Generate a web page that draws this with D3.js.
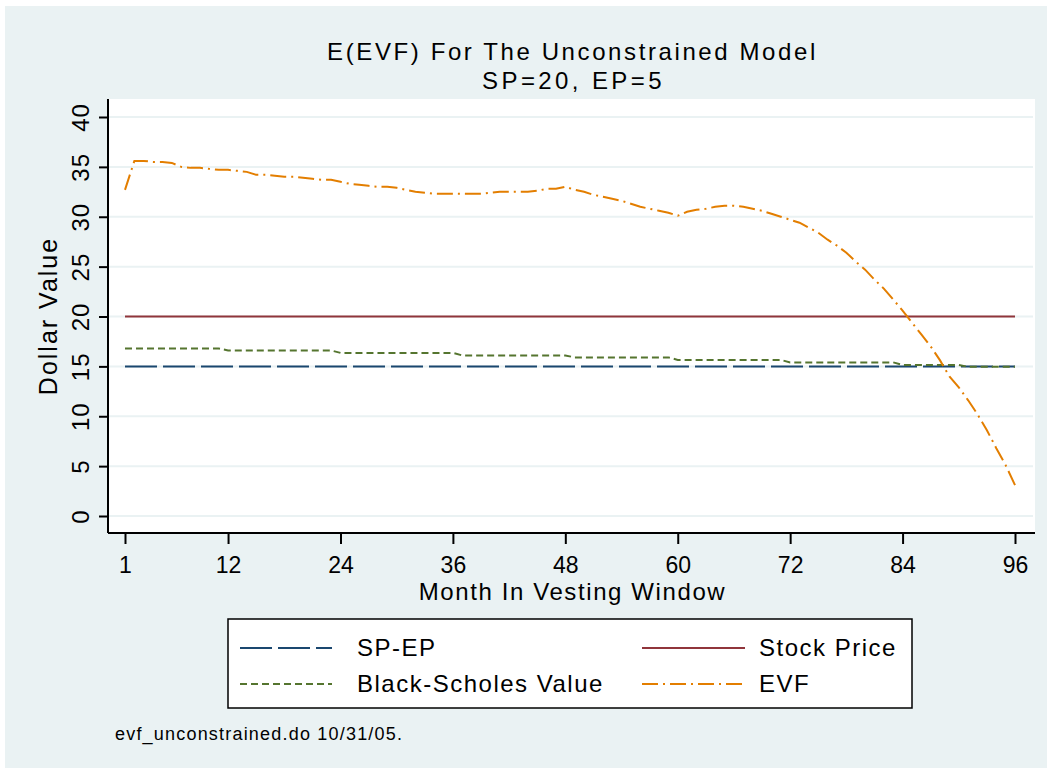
<!DOCTYPE html>
<html>
<head>
<meta charset="utf-8">
<script src="https://cdn.jsdelivr.net/npm/d3@7"></script>
<style>
  body { margin: 0; background: #fff; }
  text { font-family: "Liberation Sans", Arial, sans-serif; fill: #000; }
</style>
</head>
<body>
<svg></svg>
<script>
const width = 1047;
const height = 768;

// data
const months = d3.range(1, 97);
const evf = [
  32.7, 35.6, 35.6, 35.5, 35.5, 35.4, 35.0, 34.9, 34.9, 34.8,
  34.7, 34.7, 34.6, 34.5, 34.2, 34.2, 34.1, 34.0, 34.0, 33.9,
  33.8, 33.7, 33.7, 33.5, 33.3, 33.2, 33.1, 33.0, 33.0, 32.9,
  32.7, 32.5, 32.4, 32.3, 32.3, 32.3, 32.3, 32.3, 32.3, 32.4,
  32.5, 32.5, 32.5, 32.5, 32.6, 32.8, 32.8, 33.0, 32.7, 32.5,
  32.2, 32.0, 31.8, 31.6, 31.3, 31.0, 30.8, 30.6, 30.4, 30.1,
  30.5, 30.7, 30.8, 31.0, 31.1, 31.1, 31.0, 30.8, 30.6, 30.3,
  30.0, 29.7, 29.4, 28.9, 28.4, 27.7, 27.1, 26.4, 25.5, 24.7,
  23.7, 22.8, 21.7, 20.6, 19.4, 18.2, 17.0, 15.6, 14.0, 12.9,
  11.6, 10.2, 8.6, 6.8, 5.1, 3.1
];
const blackScholes = [
  16.8, 16.8, 16.8, 16.8, 16.8, 16.8, 16.8, 16.8, 16.8, 16.8,
  16.8, 16.6, 16.6, 16.6, 16.6, 16.6, 16.6, 16.6, 16.6, 16.6,
  16.6, 16.6, 16.6, 16.35, 16.35, 16.35, 16.35, 16.35, 16.35, 16.35,
  16.35, 16.35, 16.35, 16.35, 16.35, 16.35, 16.1, 16.1, 16.1, 16.1,
  16.1, 16.1, 16.1, 16.1, 16.1, 16.1, 16.1, 16.1, 15.9, 15.9,
  15.9, 15.9, 15.9, 15.9, 15.9, 15.9, 15.9, 15.9, 15.9, 15.65,
  15.65, 15.65, 15.65, 15.65, 15.65, 15.65, 15.65, 15.65, 15.65, 15.65,
  15.65, 15.4, 15.4, 15.4, 15.4, 15.4, 15.4, 15.4, 15.4, 15.4,
  15.4, 15.4, 15.4, 15.15, 15.15, 15.15, 15.15, 15.15, 15.15, 15.15,
  14.95, 14.95, 14.95, 14.95, 14.95, 14.95
];
const spep = months.map(() => 15);
const stockPrice = months.map(() => 20);

const xTicks = [1, 12, 24, 36, 48, 60, 72, 84, 96];
const yTicks = [0, 5, 10, 15, 20, 25, 30, 35, 40];

const series = [
  { name: 'SP-EP', values: spep, color: '#1a476f', dash: '32,6' },
  { name: 'Stock Price', values: stockPrice, color: '#90353b', dash: null },
  { name: 'Black-Scholes Value', values: blackScholes, color: '#55752f', dash: '7,4' },
  { name: 'EVF', values: evf, color: '#e37e00', dash: '16,5,2,5' }
];

const plot = { left: 108, right: 1035, top: 99, bottom: 533 };

const svg = d3.select('svg')
  .attr('width', width)
  .attr('height', height);

svg.append('rect')
  .attr('x', 5).attr('y', 6)
  .attr('width', width - 5).attr('height', height - 6)
  .attr('fill', '#eaf2f3');

svg.append('rect')
  .attr('x', plot.left).attr('y', plot.top)
  .attr('width', plot.right - plot.left).attr('height', plot.bottom - plot.top)
  .attr('fill', '#fff');

const x = d3.scaleLinear().domain([1, 96]).range([125, 1015]);
const y = d3.scaleLinear().domain([0, 40]).range([516, 117]);

// grid
svg.append('g')
  .selectAll('line')
  .data(yTicks)
  .enter()
  .append('line')
  .attr('x1', plot.left + 1).attr('x2', plot.right - 2)
  .attr('y1', d => y(d)).attr('y2', d => y(d))
  .attr('stroke', '#eaf2f3')
  .attr('stroke-width', 2);

// lines
const line = d3.line()
  .x((d, i) => x(months[i]))
  .y(d => y(d));

svg.append('g')
  .selectAll('path')
  .data(series)
  .enter()
  .append('path')
  .attr('d', d => line(d.values))
  .attr('fill', 'none')
  .attr('stroke', d => d.color)
  .attr('stroke-width', 2)
  .attr('stroke-dasharray', d => d.dash);

// axes
const yAxis = svg.append('g')
  .attr('transform', `translate(${plot.left},0)`)
  .call(d3.axisLeft(y).tickValues(yTicks).tickSize(9).tickSizeOuter(0).tickFormat(d3.format('d')));
yAxis.select('.domain').attr('d', `M0,${plot.top}V${plot.bottom}`).attr('stroke-width', 2);
yAxis.selectAll('.tick line').attr('stroke-width', 2);
yAxis.selectAll('.tick text')
  .attr('x', 0).attr('y', 0).attr('dy', 0)
  .attr('transform', 'translate(-19,0) rotate(-90)')
  .attr('text-anchor', 'middle')
  .style('font-size', '24px')
  .style('letter-spacing', '1px')
  .style('font-family', '"Liberation Sans", Arial, sans-serif');

const xAxis = svg.append('g')
  .attr('transform', `translate(0,${plot.bottom})`)
  .call(d3.axisBottom(x).tickValues(xTicks).tickSize(11).tickSizeOuter(0).tickFormat(d3.format('d')));
xAxis.select('.domain').attr('d', `M${plot.left},0H${plot.right}`).attr('stroke-width', 2);
xAxis.selectAll('.tick line').attr('stroke-width', 2);
xAxis.selectAll('.tick text')
  .attr('y', 40).attr('dy', 0)
  .style('font-size', '23px')
  .style('font-family', '"Liberation Sans", Arial, sans-serif');

// titles
const cx = (plot.left + plot.right) / 2;
svg.append('text').attr('x', cx + 1).attr('y', 60)
  .attr('text-anchor', 'middle').style('font-size', '24px')
  .style('letter-spacing', '2.6px')
  .text('E(EVF) For The Unconstrained Model');
svg.append('text').attr('x', cx + 2).attr('y', 89)
  .attr('text-anchor', 'middle').style('font-size', '24px')
  .style('letter-spacing', '3.4px')
  .text('SP=20, EP=5');

svg.append('text').attr('x', cx + 1).attr('y', 600)
  .attr('text-anchor', 'middle').style('font-size', '24px')
  .style('letter-spacing', '1.6px')
  .text('Month In Vesting Window');

svg.append('text')
  .attr('transform', `translate(57,${(plot.top + plot.bottom) / 2}) rotate(-90)`)
  .attr('text-anchor', 'middle').style('font-size', '25px')
  .style('letter-spacing', '2px')
  .text('Dollar Value');

// legend
const legend = svg.append('g');
legend.append('rect')
  .attr('x', 228).attr('y', 619)
  .attr('width', 684).attr('height', 89)
  .attr('fill', '#fff').attr('stroke', '#000').attr('stroke-width', 1.5);

const cols = [{ x1: 240, x2: 332, tx: 357 }, { x1: 642, x2: 745, tx: 759 }];
const rows = [648, 684];

const item = legend.selectAll('g.item')
  .data(series)
  .enter()
  .append('g')
  .attr('class', 'item')
  .attr('transform', (d, i) => `translate(0,${rows[Math.floor(i / 2)]})`);

item.append('line')
  .attr('x1', (d, i) => cols[i % 2].x1)
  .attr('x2', (d, i) => cols[i % 2].x2)
  .attr('stroke', d => d.color)
  .attr('stroke-width', 2)
  .attr('stroke-dasharray', d => d.dash);

item.append('text')
  .attr('x', (d, i) => cols[i % 2].tx)
  .attr('dy', '0.35em')
  .style('font-size', '24px')
  .style('letter-spacing', '1.5px')
  .text(d => d.name);

svg.append('text').attr('x', 115).attr('y', 740)
  .style('font-size', '18px')
  .style('letter-spacing', '1.2px')
  .text('evf_unconstrained.do 10/31/05.');
</script>
</body>
</html>
